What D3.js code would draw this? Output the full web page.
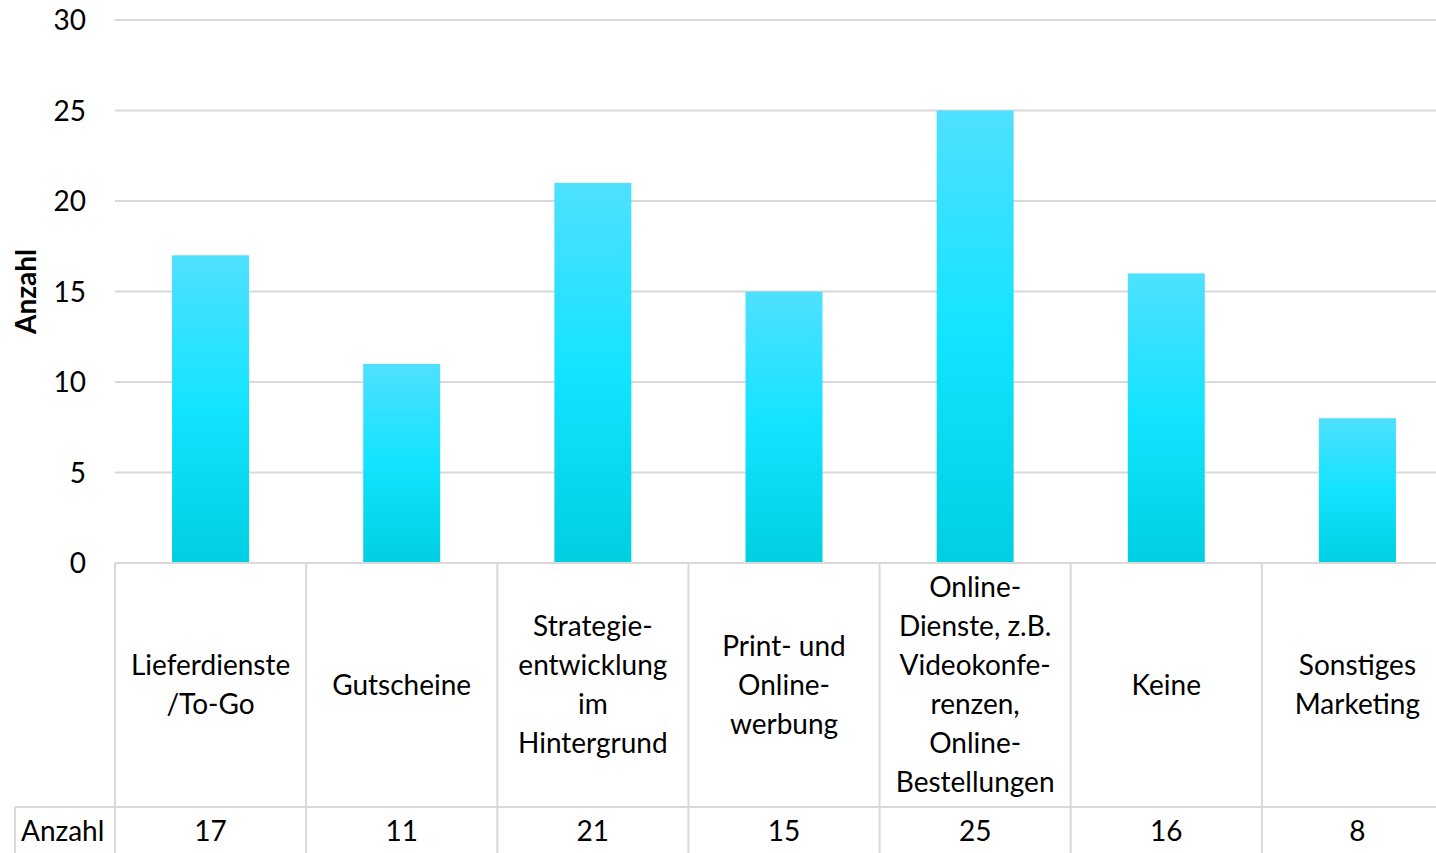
<!DOCTYPE html>
<html><head><meta charset="utf-8">
<script src="https://cdn.jsdelivr.net/npm/d3@7"></script>
<style>html,body{margin:0;padding:0;background:#fff;}svg{display:block;font-family:Lato,"Open Sans",sans-serif;}</style>
</head><body>
<svg id="c" width="1436" height="853"></svg>
<script>
const categories = [
  ["Lieferdienste","/To-Go"],
  ["Gutscheine"],
  ["Strategie-","entwicklung","im","Hintergrund"],
  ["Print- und","Online-","werbung"],
  ["Online-","Dienste, z.B.","Videokonfe-","renzen,","Online-","Bestellungen"],
  ["Keine"],
  ["Sonstiges","Marketing"]
];
const values = [17, 11, 21, 15, 25, 16, 8];
const yTicks = [0, 5, 10, 15, 20, 25, 30];
const seriesName = "Anzahl";
const yTitle = "Anzahl";

(function(){
const svg = d3.select("#c");
const pL = 115, pR = 1453, pT = 20, pB = 563, svgW = 1436;
const tableRowY = 807, tableLeft = 15, svgH = 853;
const grid = "#d9d9d9";
const fs = 28;

const x = d3.scaleBand().domain(d3.range(values.length)).range([pL, pR]).paddingInner(0).paddingOuter(0);
const y = d3.scaleLinear().domain([0, 30]).range([pB, pT]);

const defs = svg.append("defs");
const g = defs.append("linearGradient").attr("id","barGrad").attr("x1",0).attr("y1",0).attr("x2",0).attr("y2",1);
g.append("stop").attr("offset","0%").attr("stop-color","#4fe0ff");
g.append("stop").attr("offset","50%").attr("stop-color","#12e4ff");
g.append("stop").attr("offset","100%").attr("stop-color","#00cfe0");

// gridlines
svg.append("g").selectAll("line").data(yTicks.filter(t=>t>0)).join("line")
  .attr("x1", pL).attr("x2", svgW).attr("y1", d=>y(d)).attr("y2", d=>y(d))
  .attr("stroke", grid).attr("stroke-width", 2);

// y axis labels
const yAxis = d3.axisLeft(y).tickValues(yTicks).tickSize(0).tickPadding(0);
const ya = svg.append("g").attr("transform", `translate(86,0)`).call(yAxis);
ya.select(".domain").remove();
ya.selectAll("text").attr("font-size", fs).attr("fill","#000").attr("font-family","Lato, 'Open Sans', sans-serif").attr("dy","0.35em");

// y title
svg.append("text").attr("transform", `translate(36,${(pT+pB)/2}) rotate(-90)`)
  .attr("text-anchor","middle").attr("font-size", 28).attr("font-weight","bold").text(yTitle);

// bars
const bw = 77;
svg.append("g").selectAll("rect").data(values).join("rect")
  .attr("x", (d,i)=>x(i) + x.bandwidth()/2 - bw/2)
  .attr("width", bw)
  .attr("y", d=>y(d))
  .attr("height", d=>y(0)-y(d))
  .attr("fill","url(#barGrad)");

// table lines
const tl = svg.append("g").attr("stroke", grid).attr("stroke-width", 2);
tl.append("line").attr("x1", pL).attr("x2", svgW).attr("y1", pB).attr("y2", pB);
tl.append("line").attr("x1", tableLeft).attr("x2", svgW).attr("y1", tableRowY).attr("y2", tableRowY);
tl.append("line").attr("x1", tableLeft).attr("x2", tableLeft).attr("y1", tableRowY).attr("y2", svgH);
tl.selectAll("line.v").data(d3.range(values.length)).join("line").attr("class","v")
  .attr("x1", i=>x(i)).attr("x2", i=>x(i)).attr("y1", pB).attr("y2", svgH);

// category labels
const lh = 39;
const catMid = (pB + tableRowY)/2;
const cg = svg.append("g").attr("font-size", fs).attr("text-anchor","middle");
categories.forEach((lines, i) => {
  const cx = x(i) + x.bandwidth()/2;
  const startY = catMid - (lines.length-1)*lh/2;
  const t = cg.append("text").attr("x", cx);
  lines.forEach((l, j) => t.append("tspan").attr("x", cx).attr("y", startY + j*lh).attr("dy","0.35em").text(l));
});

// table values
const rowMid = 831;
svg.append("text").attr("x", 21).attr("y", rowMid).attr("dy","0.35em").attr("font-size", fs).text(seriesName);
svg.append("g").selectAll("text").data(values).join("text")
  .attr("x", (d,i)=>x(i)+x.bandwidth()/2).attr("y", rowMid).attr("dy","0.35em")
  .attr("text-anchor","middle").attr("font-size", fs).text(d=>d);
})();
</script>
</body></html>
